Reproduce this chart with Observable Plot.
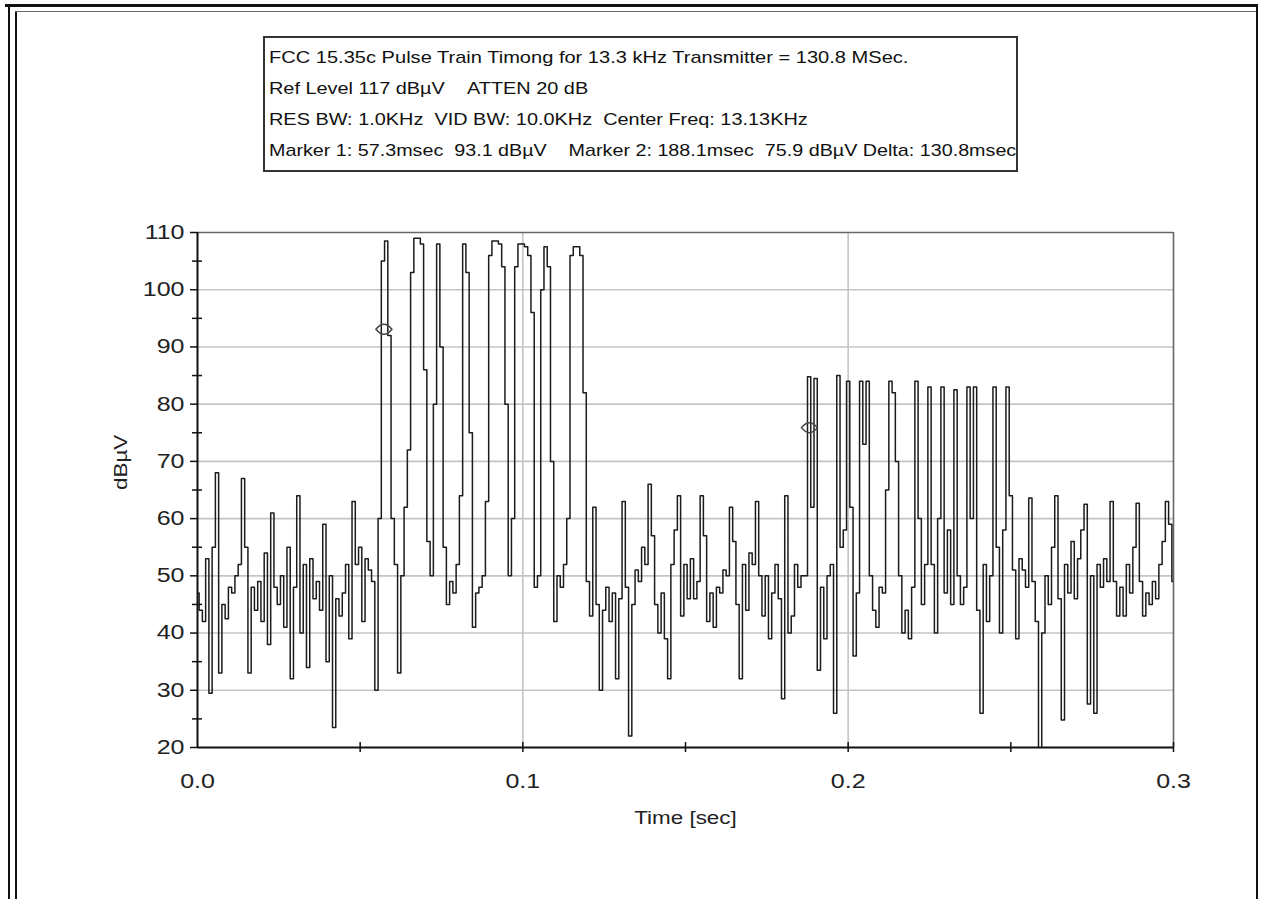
<!DOCTYPE html>
<html>
<head>
<meta charset="utf-8">
<script src="https://cdn.jsdelivr.net/npm/d3@7"></script>
<script src="https://cdn.jsdelivr.net/npm/@observablehq/plot@0.6"></script>
<style>
  html, body { margin: 0; padding: 0; background: #fff; }
  #wrap { position: relative; width: 1262px; height: 899px; overflow: hidden; font-family: "Liberation Sans", Arial, sans-serif; }
  .fr { position: absolute; background: #111; }
  #legend { position: absolute; left: 263px; top: 36px; width: 747px; height: 128px; border: 2px solid #333; background: #fff; color: #111; font-size: 17px; line-height: 31px; padding: 4px 0 0 4px; box-sizing: content-box; white-space: nowrap; overflow: visible; }
  #legend div { height: 31px; transform-origin: 0 50%; }
  svg { position: absolute; left: 0; top: 0; }
</style>
</head>
<body>
<div id="wrap"></div>
<script>
// ---- data ----
const sampleInterval = 0.001; // seconds per trace point (0 .. 0.3 s)
const levels = [
  47, 44, 42, 53, 29.5, 55, 68, 33, 45, 42.5,
  48, 47, 50, 52, 67, 55, 33, 48, 44, 49,
  42, 54, 38, 61, 48, 45, 50, 41, 55, 32,
  48, 64, 40, 52, 34, 53, 46, 49, 44, 59,
  35, 50, 23.5, 46, 43, 47, 52, 39, 63, 52,
  55, 42, 53, 51, 49, 30, 60, 105, 108.5, 92,
  60, 52, 33, 50, 62, 72, 103, 109, 109, 108,
  86, 56, 50, 80, 108, 90, 55, 45, 49, 47,
  52, 64, 108, 103, 75, 41, 47, 48, 50, 63,
  106, 108.5, 108.5, 108, 104, 80, 50, 60, 104, 108,
  108, 107.5, 106, 96, 48, 50, 100, 107.5, 104, 70,
  42, 50, 48, 52, 60, 106, 107.5, 107.5, 106, 82,
  49, 43, 62, 45, 30, 44, 48, 42, 47, 32,
  46, 63, 48, 22, 45, 51, 49, 55, 52, 66,
  57, 45, 40, 47, 39, 32, 52, 58, 64, 43,
  52, 46, 53, 46, 49, 64, 57, 42, 47, 41,
  48, 47, 51, 50, 62, 56, 45, 32, 52, 44,
  54, 52, 63, 50, 43, 50, 39, 47, 52, 46,
  28.5, 64, 40, 43, 52, 48, 50, 50, 84.8, 62,
  84.5, 33.5, 48, 39, 50, 52, 26, 85, 55, 58,
  84, 62, 36, 47, 84, 73, 84, 50, 44, 41,
  48, 47, 65, 84, 82, 70, 50, 40, 44, 39,
  48, 84, 60, 45, 52, 83, 52, 40, 60, 83,
  47, 58, 45, 82.5, 50, 45, 48, 83, 60, 83,
  44, 26, 52, 42, 50, 83, 55, 40, 58, 83,
  64, 51, 39, 53, 51, 48, 63.6, 49, 42, 18,
  40, 50, 45, 55, 64, 46, 24.8, 52, 47, 56,
  46, 53, 58, 62.5, 27.6, 50, 26, 52, 48, 53,
  49, 63, 49, 43, 48, 43, 52, 47, 55, 62.7,
  49, 43, 47, 45, 49, 46, 52, 56, 63, 59,
  49
];
const markerTimes = [0.0573, 0.1881];
const markerLevels = [93.1, 75.9];
const yTicks = [20, 30, 40, 50, 60, 70, 80, 90, 100, 110];
const yMinorTicks = [25, 35, 45, 55, 65, 75, 85, 95, 105];
const yGrid = [30, 40, 50, 60, 70, 80, 90, 100];
const xTicks = [0, 0.1, 0.2, 0.3];
const xMinorTicks = [0.05, 0.1, 0.15, 0.2, 0.25, 0.3];
const xGrid = [0.1, 0.2];
const legendLines = [
  "FCC 15.35c Pulse Train Timong for 13.3 kHz Transmitter = 130.8 MSec.",
  "Ref Level 117 dB\u00b5V \u00a0\u00a0\u00a0ATTEN 20 dB",
  "RES BW: 1.0KHz \u00a0VID BW: 10.0KHz \u00a0Center Freq: 13.13KHz",
  "Marker 1: 57.3msec \u00a093.1 dB\u00b5V \u00a0\u00a0\u00a0Marker 2: 188.1msec \u00a075.9 dB\u00b5V Delta: 130.8msec"
];
const xLabel = "Time [sec]";
const yLabel = "dB\u00b5V";

// ---- tables built from the arrays ----
const trace = levels.map((v, i) => ({t: +(i * sampleInterval).toFixed(4), v}));
const markers = markerTimes.map((t, i) => ({t, v: markerLevels[i]}));

const lens = {
  draw(context, size) {
    const r = Math.sqrt(size / Math.PI);
    const w = r * 1.6, h = r;
    context.moveTo(-w, 0);
    context.quadraticCurveTo(0, -2 * h, w, 0);
    context.quadraticCurveTo(0, 2 * h, -w, 0);
    context.closePath();
  }
};

const font = "\"Liberation Sans\", Arial, sans-serif";
const chart = Plot.plot({
  width: 1262,
  height: 899,
  marginLeft: 197,
  marginRight: 89,
  marginTop: 232,
  marginBottom: 152,
  style: {fontFamily: font, fontSize: "20px", color: "#222", background: "transparent", overflow: "visible"},
  x: {domain: [0, 0.3]},
  y: {domain: [20, 110]},
  marks: [
    Plot.ruleY(yGrid, {stroke: "#c4c4c4", strokeWidth: 1.6}),
    Plot.ruleX(xGrid, {stroke: "#c4c4c4", strokeWidth: 1.6}),
    Plot.ruleY([110], {stroke: "#666", strokeWidth: 1.6}),
    Plot.ruleX([0.3], {stroke: "#666", strokeWidth: 1.6}),
    Plot.line(trace, {x: "t", y: "v", curve: "step", stroke: "#1c1c1c", strokeWidth: 1.5, clip: true}),
    Plot.dot(markers, {x: "t", y: "v", symbol: lens, r: 5, fill: "none", stroke: "#444", strokeWidth: 1.5}),
    Plot.ruleY([20], {stroke: "#111", strokeWidth: 2}),
    Plot.ruleX([0], {stroke: "#111", strokeWidth: 2}),
    Plot.ruleY(yMinorTicks, {x1: 0, x2: 0, insetLeft: -5, insetRight: -5, stroke: "#111", strokeWidth: 1.5}),
    Plot.ruleX(xMinorTicks, {y1: 20, y2: 20, insetTop: -5, insetBottom: -5, stroke: "#111", strokeWidth: 1.5}),
    Plot.axisY({ticks: yTicks, tickSize: 7, tickPadding: 6, label: null, stroke: "#111", strokeWidth: 1.5, fontSize: 20}),
    Plot.axisX({ticks: xTicks, tickSize: 0, tickPadding: 26, label: null, tickFormat: d => d.toFixed(1), fontSize: 20}),
    Plot.text([xLabel], {frameAnchor: "bottom", dy: 76, text: d => d, fontSize: 19, fill: "#222", className: "axis-title"}),
    Plot.text([yLabel], {frameAnchor: "left", dx: -77, rotate: -90, text: d => d, fontSize: 19, fill: "#222", className: "axis-title"})
  ]
});

// widen the glyphs horizontally like the reference's stretched text
function stretch(el, sx) {
  const t = el.getAttribute("transform");
  if (t) {
    el.setAttribute("transform", t + ` scale(${sx},1)`);
  } else {
    const x = +(el.getAttribute("x") || 0), y = +(el.getAttribute("y") || 0);
    el.removeAttribute("x"); el.removeAttribute("y");
    el.setAttribute("transform", `translate(${x},${y}) scale(${sx},1)`);
  }
}
chart.querySelectorAll('g[aria-label="y-axis tick label"] text, g[aria-label="x-axis tick label"] text')
  .forEach(el => stretch(el, 1.25));
chart.querySelectorAll('g.axis-title text').forEach(el => stretch(el, 1.18));

const wrap = document.getElementById("wrap");
wrap.appendChild(chart);

// window frame lines
const frames = [
  {left: 5, top: 4, width: 1253, height: 3},
  {left: 8, top: 4, width: 2, height: 895},
  {left: 15, top: 11, width: 2, height: 888},
  {left: 15, top: 11, width: 1243, height: 1, bg: "#666"},
  {left: 1256, top: 4, width: 2, height: 895}
];
for (const f of frames) {
  const d = document.createElement("div");
  d.className = "fr";
  Object.assign(d.style, {left: f.left + "px", top: f.top + "px", width: f.width + "px", height: f.height + "px"});
  if (f.bg) d.style.background = f.bg;
  wrap.appendChild(d);
}

const legend = document.createElement("div");
legend.id = "legend";
const legendStretch = [1.18, 1.17, 1.17, 1.16];
legendLines.forEach((line, i) => {
  const l = document.createElement("div");
  l.textContent = line;
  l.style.transform = `scaleX(${legendStretch[i]})`;
  legend.appendChild(l);
});
wrap.appendChild(legend);
</script>
</body>
</html>
